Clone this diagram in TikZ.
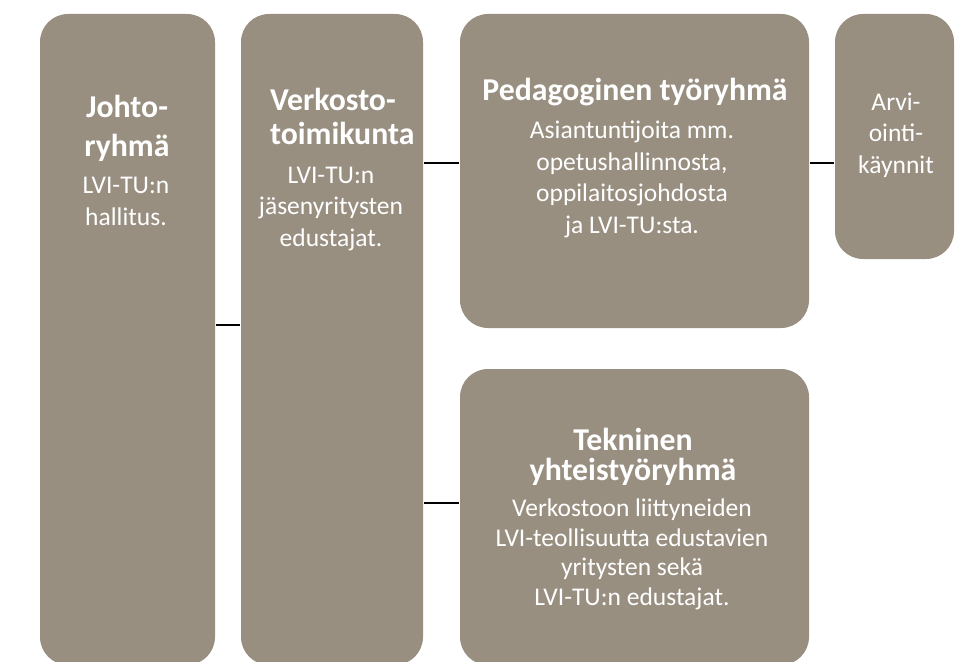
\documentclass[tikz,border=0pt]{standalone}
\usepackage{fontspec}
\setmainfont{Carlito}
\usetikzlibrary{positioning}
\definecolor{taupe}{RGB}{152,143,129}

\begin{document}
\begin{tikzpicture}[x=1pt,y=-1pt,line width=2pt,
		box/.style={rectangle,rounded corners=28pt,fill=taupe,anchor=north west,inner sep=0pt},
		head/.style={text=white,align=center,anchor=base,inner sep=0pt,font=\fontsize{31.8}{#1}\selectfont\bfseries},
		head/.default=39,
		body/.style={text=white,align=center,anchor=base,inner sep=0pt,font=\fontsize{25.5}{#1}\selectfont},
		body/.default=31.5]
		
		\useasboundingbox (0,0) rectangle (960,661);
		
		% boxes
		\node[box,minimum width=175pt,minimum height=651pt] (johto) at (39,13) {};
		\node[box,minimum width=182pt,minimum height=651pt] (verkosto) at (240,13) {};
		\node[box,minimum width=349pt,minimum height=314pt] (peda) at (459,13) {};
		\node[box,minimum width=119pt,minimum height=245pt] (arvi) at (834,13) {};
		\node[box,minimum width=349pt,minimum height=296pt] (tekn) at (459,368) {};
		
		% texts (placed at the baseline of their last line)
		\node[head] (johtoHead) at (127,156) {Johto-\\ryhmä};
		\node[body] (johtoText) at (126,225) {LVI-TU:n\\hallitus.};
		\node[head=34,align=left,anchor=base west] (verkHead) at (269,144) {Verkosto-\\toimikunta};
		\node[body] (verkText) at (331,246) {LVI-TU:n\\jäsenyritysten\\edustajat.};
		\node[head] (pedaHead) at (635,100) {Pedagoginen työryhmä};
		\node[body] (pedaText) at (632,233) {Asiantuntijoita mm.\\opetushallinnosta,\\oppilaitosjohdosta\\ja LVI-TU:sta.};
		\node[body] (arviText) at (896,173) {Arvi-\\ointi-\\käynnit};
		\node[head=30] (teknHead) at (633,480) {Tekninen\\yhteistyöryhmä};
		\node[body=29.5] (teknText) at (632,605) {Verkostoon liittyneiden\\LVI-teollisuutta edustavien\\yritysten sekä\\LVI-TU:n edustajat.};
		
		% connectors
		\coordinate (lowLink) at (0,325);
		\coordinate (topLink) at (0,163);
		\coordinate (teknLink) at (0,503);
		\draw (johto.east |- lowLink) -- (verkosto.west |- lowLink);
		\draw (verkosto.east |- topLink) -- (peda.west |- topLink);
		\draw (peda.east |- topLink) -- (arvi.west |- topLink);
		\draw (verkosto.east |- teknLink) -- (tekn.west |- teknLink);
\end{tikzpicture}
\end{document}
